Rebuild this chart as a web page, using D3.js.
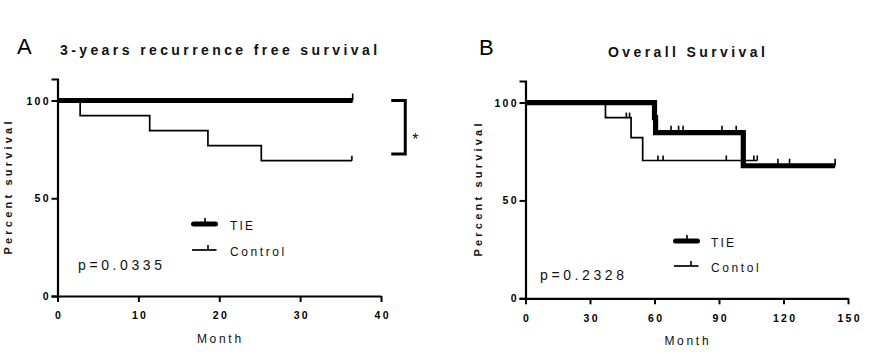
<!DOCTYPE html>
<html><head><meta charset="utf-8">
<script src="https://cdn.jsdelivr.net/npm/d3@7"></script>
<style>
html,body{margin:0;padding:0;background:#fff;}
svg{display:block;font-family:"Liberation Sans",Arial,sans-serif;}
</style></head>
<body>
<svg id="chart" width="881" height="354"></svg>
<script>
// ---------- Data ----------
const yTicks = [0, 50, 100];
// Panel A: 3-years recurrence free survival
const xTicksA = [0, 10, 20, 30, 40];
const tieA_time = [0, 36.5];
const tieA_surv = [100, 100];
const tieA_censor = [36.5];
const ctrlA_time = [0, 2.8, 11.4, 18.6, 25.2, 36.4];
const ctrlA_surv = [100, 92.3, 84.6, 76.9, 69.2, 69.2];
const ctrlA_censor = [36.4];
const pA = "p=0.0335";
const legendA = ["TIE", "Control"];
// Panel B: Overall Survival
const xTicksB = [0, 30, 60, 90, 120, 150];
const tieB_time = [0, 60.0, 60.5, 101.3, 144];
const tieB_surv = [100, 92.3, 84.6, 67.7, 67.7];
const tieB_censor = [67.7, 71.2, 73.3, 91.4, 98.0, 117.4, 122.8, 144];
const ctrlB_time = [0, 37.2, 49.1, 54.5, 107.8];
const ctrlB_surv = [100, 92.3, 82.1, 70.4, 70.4];
const ctrlB_censor = [46.9, 48.4, 61.6, 64.0, 93.4, 106.2, 107.8];
const pB = "p=0.2328";
const legendB = ["TIE", "Contol"];

const svg = d3.select("#chart");

function survAt(times, surv, t) {
  let v = surv[0];
  for (let i = 0; i < times.length; i++) if (times[i] <= t) v = surv[i];
  return v;
}

function panel(cfg) {
  const x = d3.scaleLinear().domain(cfg.xDomain).range(cfg.xRange);
  const y = d3.scaleLinear().domain([0, 111]).range(cfg.yRange);
  const g = svg.append("g");

  // y axis
  const ya = d3.axisLeft(y).tickValues(yTicks).tickSize(6).tickPadding(3).tickFormat(d3.format("d"));
  const gy = g.append("g").attr("transform", `translate(${cfg.xRange[0]},0)`).call(ya);
  gy.select(".domain").attr("stroke", "#000").attr("stroke-width", 2.2);
  gy.selectAll(".tick line").attr("stroke", "#000").attr("stroke-width", 2);
  gy.selectAll(".tick text").attr("font-size", 10.5).attr("font-weight", "bold")
    .attr("letter-spacing", 2.2).attr("dx", 2.2).attr("dy", "0.34em")
    .attr("font-family", "Liberation Sans, Arial, sans-serif").attr("fill", "#000");

  // x axis
  const xa = d3.axisBottom(x).tickValues(cfg.xTicks).tickSize(6).tickPadding(10).tickSizeOuter(0);
  const gx = g.append("g").attr("transform", `translate(0,${y(0)})`).call(xa);
  gx.select(".domain").attr("stroke", "#000").attr("stroke-width", 2.2);
  gx.selectAll(".tick line").attr("stroke", "#000").attr("stroke-width", 2);
  gx.selectAll(".tick text").attr("font-size", 10.5).attr("font-weight", "bold")
    .attr("letter-spacing", 2.3).attr("dx", 1.15)
    .attr("font-family", "Liberation Sans, Arial, sans-serif").attr("fill", "#000");

  const line = d3.line().x(d => x(d[0])).y(d => y(d[1])).curve(d3.curveStepAfter);

  function drawCurve(times, surv, censor, w, tickLen) {
    const pts = times.map((t, i) => [t, surv[i]]);
    g.append("path").attr("d", line(pts)).attr("fill", "none")
      .attr("stroke", "#000").attr("stroke-width", w).attr("stroke-linejoin", "miter");
    censor.forEach(t => {
      const v = survAt(times, surv, t);
      g.append("line").attr("x1", x(t)).attr("x2", x(t))
        .attr("y1", y(v)).attr("y2", y(v) - tickLen)
        .attr("stroke", "#000").attr("stroke-width", 1.6);
    });
  }
  drawCurve(cfg.ctrl[0], cfg.ctrl[1], cfg.ctrl[2], 1.7, 5);
  drawCurve(cfg.tie[0], cfg.tie[1], cfg.tie[2], 5.2, 7);

  // panel letter
  g.append("text").attr("x", cfg.letterX).attr("y", cfg.letterY).text(cfg.letter)
    .attr("font-size", 22).attr("fill", "#000");
  // title
  g.append("text").attr("x", cfg.titleX).attr("y", cfg.titleY).text(cfg.title)
    .attr("font-size", 14).attr("font-weight", "bold").attr("letter-spacing", 3.4).attr("fill", "#111");
  // y label
  g.append("text").attr("transform", `translate(${cfg.yLabX},${cfg.yLabY}) rotate(-90)`)
    .attr("text-anchor", "middle").attr("dx", 1.6).text("Percent survival")
    .attr("font-size", 11).attr("font-weight", "bold").attr("letter-spacing", 3.2).attr("fill", "#111");
  // x label
  g.append("text").attr("x", cfg.xLabX).attr("y", cfg.xLabY).attr("text-anchor", "middle")
    .attr("dx", 1.35).text("Month").attr("font-size", 12).attr("letter-spacing", 2.7).attr("fill", "#111");
  // p value
  g.append("text").attr("x", cfg.pX).attr("y", cfg.pY).text(cfg.p)
    .attr("font-size", 14).attr("letter-spacing", 3.6).attr("fill", "#111");

  // legend
  const L = cfg.legend;
  g.append("line").attr("x1", L.x0 + 2.5).attr("x2", L.x1 - 2.5).attr("y1", L.y0).attr("y2", L.y0)
    .attr("stroke", "#000").attr("stroke-width", 5).attr("stroke-linecap", "round");
  g.append("line").attr("x1", L.t0).attr("x2", L.t0).attr("y1", L.y0).attr("y2", L.y0 - 6)
    .attr("stroke", "#000").attr("stroke-width", 1.6);
  g.append("line").attr("x1", L.x0 + 1).attr("x2", L.x1 - 1.5).attr("y1", L.y1).attr("y2", L.y1)
    .attr("stroke", "#000").attr("stroke-width", 1.7);
  g.append("line").attr("x1", L.t1).attr("x2", L.t1).attr("y1", L.y1).attr("y2", L.y1 - 5)
    .attr("stroke", "#000").attr("stroke-width", 1.6);
  g.append("text").attr("x", L.tx).attr("y", L.y0 + 5.5).text(cfg.legendNames[0])
    .attr("font-size", 12).attr("letter-spacing", 2.2).attr("fill", "#111");
  g.append("text").attr("x", L.tx).attr("y", L.y1 + 5.5).text(cfg.legendNames[1])
    .attr("font-size", 12).attr("letter-spacing", 2.6).attr("fill", "#111");

  return { g, x, y };
}

const A = panel({
  xDomain: [0, 40], xRange: [57.5, 381], yRange: [296, 79], xTicks: xTicksA,
  tie: [tieA_time, tieA_surv, tieA_censor], ctrl: [ctrlA_time, ctrlA_surv, ctrlA_censor],
  letter: "A", letterX: 17, letterY: 54, title: "3-years recurrence free survival", titleX: 60, titleY: 55,
  yLabX: 12, yLabY: 188, xLabX: 219, xLabY: 343, p: pA, pX: 78, pY: 270,
  legend: { x0: 191, x1: 218, y0: 224, y1: 250, t0: 205, t1: 208, tx: 230 },
  legendNames: legendA
});

const B = panel({
  xDomain: [0, 150], xRange: [525.5, 848], yRange: [298.3, 81], xTicks: xTicksB,
  tie: [tieB_time, tieB_surv, tieB_censor], ctrl: [ctrlB_time, ctrlB_surv, ctrlB_censor],
  letter: "B", letterX: 479, letterY: 55, title: "Overall Survival", titleX: 608, titleY: 57,
  yLabX: 482, yLabY: 190, xLabX: 686.5, xLabY: 345, p: pB, pX: 540, pY: 279.5,
  legend: { x0: 673, x1: 700, y0: 241, y1: 266, t0: 687, t1: 691, tx: 711 },
  legendNames: legendB
});

// significance bracket (panel A)
const bx = A.x(43.0), by0 = A.y(100), by1 = A.y(72.6);
A.g.append("path").attr("d", `M${bx - 14},${by0} H${bx} V${by1} H${bx - 14}`)
  .attr("fill", "none").attr("stroke", "#000").attr("stroke-width", 3);
A.g.append("text").attr("x", bx + 7).attr("y", 145).text("*")
  .attr("font-size", 16).attr("fill", "#111");
</script>
</body></html>
